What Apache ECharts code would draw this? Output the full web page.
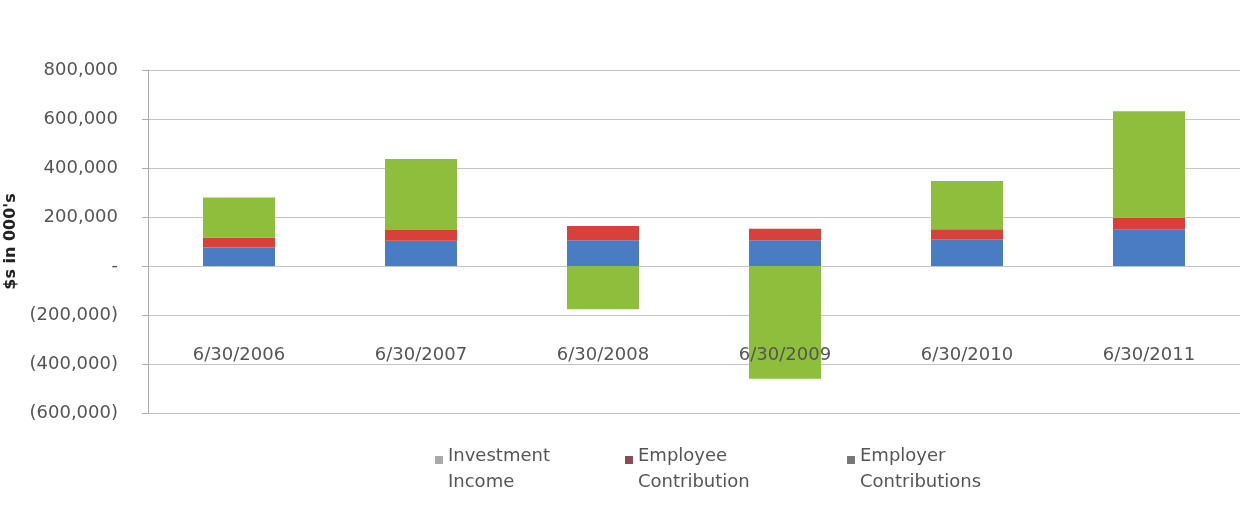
<!DOCTYPE html>
<html><head><meta charset="utf-8">
<script src="https://cdn.jsdelivr.net/npm/echarts@6/dist/echarts.min.js"></script>
<style>html,body{margin:0;padding:0;background:#fff}#c{width:1245px;height:523px}</style>
</head><body><div id="c"></div>
<script>
const categories = ['6/30/2006','6/30/2007','6/30/2008','6/30/2009','6/30/2010','6/30/2011'];
const employerContributions = [76000, 103000, 105000, 105000, 109000, 150000];
const employeeContribution = [40000, 44000, 58000, 47000, 41000, 47000];
const investmentIncome = [164000, 290000, -177000, -460000, 197000, 435000];
const seriesNames = ['Investment\nIncome', 'Employee\nContribution', 'Employer\nContributions'];
const yMin = -600000, yMax = 800000, yInterval = 200000;

function fmt(v){
  if (v === 0) return '-';
  const s = Math.abs(v).toLocaleString('en-US');
  return v < 0 ? '(' + s + ')' : s;
}
const font = 'DejaVu Sans';
const legendColors = ['#a9a9a9', '#8a4a58', '#777'];
const legendLefts = [430, 620, 842];
const legends = seriesNames.map((n, i) => ({
  top: 438, left: legendLefts[i],
  itemWidth: 8, itemHeight: 44,
  icon: 'path://M0,9L8,9L8,17L0,17Z M0,0L0.01,0L0,0.01Z M0,44L0.01,44L0,43.99Z',
  textStyle: {fontFamily: font, fontSize: 18, color: '#555', lineHeight: 26},
  data: [{name: n, itemStyle: {color: legendColors[i]}}]
}));
const chart = echarts.init(document.getElementById('c'));
chart.setOption({
  animation: false,
  textStyle: {fontFamily: font},
  grid: {left: 148, right: 5, top: 70, bottom: 110, containLabel: false, outerBoundsMode: 'none'},
  legend: legends,
  xAxis: {
    type: 'category', data: categories, z: 5,
    axisLine: {show: false},
    axisTick: {show: false},
    axisLabel: {margin: -67, fontSize: 18, color: '#555', fontFamily: font}
  },
  yAxis: {
    type: 'value', min: yMin, max: yMax, interval: yInterval,
    name: "$s in 000's", nameLocation: 'middle', nameGap: 113, nameRotate: 90,
    nameTextStyle: {fontWeight: 'bold', fontSize: 16, color: '#222', fontFamily: font},
    axisLine: {show: true, lineStyle: {color: '#aaa'}},
    axisTick: {show: true, length: 6, lineStyle: {color: '#aaa'}},
    splitLine: {lineStyle: {color: '#c4c4c4'}},
    axisLabel: {formatter: fmt, fontSize: 18, color: '#555', margin: 30, fontFamily: font}
  },
  series: [
    {name: seriesNames[2], type: 'bar', stack: 't', data: employerContributions, barWidth: 72, itemStyle: {color: '#4a7cc4'}},
    {name: seriesNames[1], type: 'bar', stack: 't', data: employeeContribution, itemStyle: {color: '#d8413a'}},
    {name: seriesNames[0], type: 'bar', stack: 't', data: investmentIncome, itemStyle: {color: '#8dbf3d'}}
  ]
});
</script></body></html>
